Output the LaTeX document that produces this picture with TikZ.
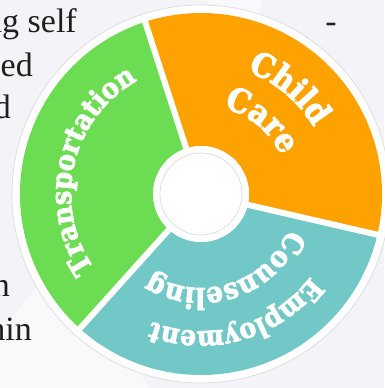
\documentclass[tikz,border=0pt]{standalone}
\usepackage{fontspec}
\setmainfont{Liberation Serif}
\newfontfamily\slab[BoldFeatures={FakeBold=2.6}]{DejaVu Serif Condensed}
\usetikzlibrary{decorations.text}
\definecolor{paper}{HTML}{F4F4F8}
\definecolor{paperlight}{HTML}{F9F9FB}
\definecolor{ringgray}{HTML}{DCDCE0}
\definecolor{careorange}{HTML}{FEA201}
\definecolor{transgreen}{HTML}{6CDC52}
\definecolor{workteal}{HTML}{72C8C6}
\begin{document}
\begin{tikzpicture}[x=1pt,y=1pt,
  sidetext/.style={anchor=base east, inner sep=0pt, font=\fontsize{34}{34}\selectfont, text=black!88},
  gap/.style={draw=white, line width=6pt},
  arclabel/.style={decorate, decoration={text along path, text align=center, text color=white, text={#1}}}
]
\useasboundingbox (0,0) rectangle (384,-388);
\fill[paper] (0,0) rectangle (384,-388);
\fill[paperlight] (0,-388) -- (0,-330) -- (70,-250) -- (150,-388) -- cycle;
\fill[paperlight] (205,0) -- (262,0) -- (250,-60) -- cycle;

% column of body text running behind the wheel
\node[sidetext] (l1) at (77,-32) {ng self};
\node[sidetext] (l2) at (33,-76) {ed};
\node[sidetext] (l3) at (11,-118) {d};
\node[sidetext] (l4) at (10,-296) {n};
\node[sidetext] (l5) at (32,-340) {hin};
\node[sidetext, anchor=base] (dash) at (331,-32) {-};

\coordinate (c) at (201,-194);
\begin{scope}[shift={(c)}]
  % outer white rim
  \fill[white, draw=ringgray, line width=0.7pt] (0,0) circle[radius=189];
  % the three sectors
  \fill[careorange] (-13:181) arc[start angle=-13, end angle=108, radius=181]
    -- (108:48) arc[start angle=108, end angle=-13, radius=48] -- cycle;
  \fill[transgreen] (108:181) arc[start angle=108, end angle=228, radius=181]
    -- (228:48) arc[start angle=228, end angle=108, radius=48] -- cycle;
  \fill[workteal] (228:181) arc[start angle=228, end angle=347, radius=181]
    -- (347:48) arc[start angle=347, end angle=228, radius=48] -- cycle;
  % white separators
  \draw[gap] (108:40) -- (108:186);
  \draw[gap] (228:40) -- (228:186);
  \draw[gap] (-13:40) -- (-13:186);
  % hub
  \fill[white] (0,0) circle[radius=48];
  \draw[ringgray, line width=0.7pt] (0,0) circle[radius=41];

  % curved labels
  \path[arclabel={|\slab\bfseries\fontsize{28.5}{28.5}\selectfont|Transportation}]
    (227:130) arc[start angle=227, end angle=107, radius=130];
  \path[arclabel={|\slab\bfseries\fontsize{33}{33}\selectfont|Child}]
    (110:131) arc[start angle=110, end angle=-10, radius=131];
  \path[arclabel={|\slab\bfseries\fontsize{33}{33}\selectfont|Care}]
    (110:89) arc[start angle=110, end angle=-9, radius=89];
  \path[arclabel={|\slab\bfseries\fontsize{28}{28}\selectfont|Employment}]
    (-14:137) arc[start angle=-14, end angle=-134, radius=137];
  \path[arclabel={|\slab\bfseries\fontsize{29}{29}\selectfont|Counseling}]
    (-12:94) arc[start angle=-12, end angle=-132, radius=94];
\end{scope}
\end{tikzpicture}
\end{document}
